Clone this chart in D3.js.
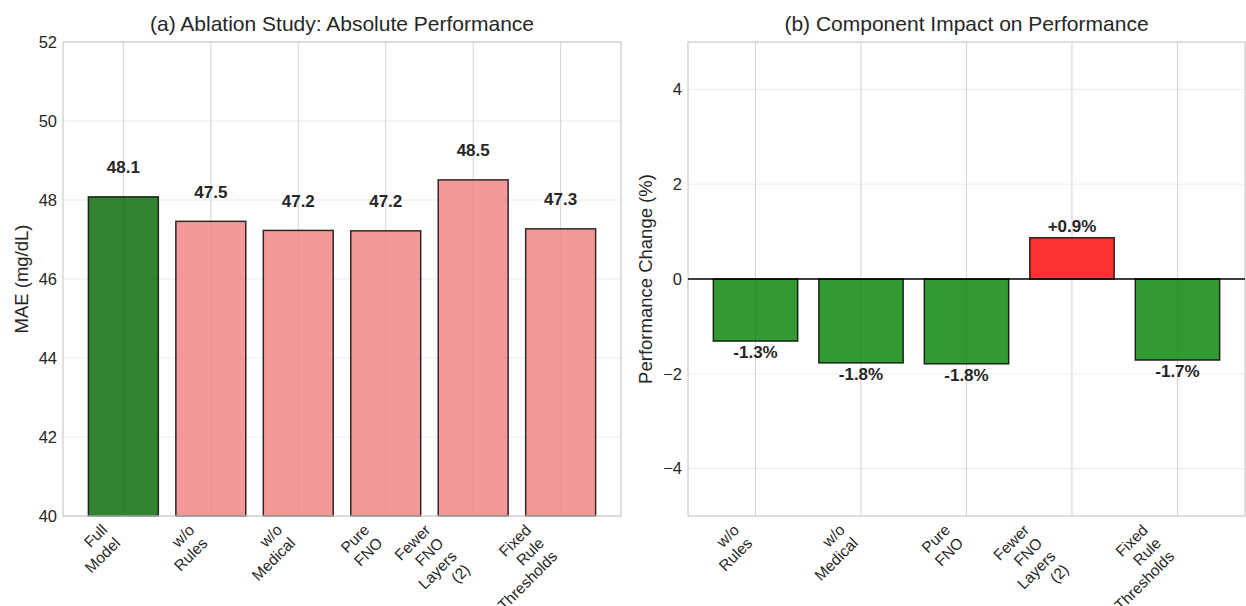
<!DOCTYPE html>
<html><head><meta charset="utf-8">
<script src="https://cdn.jsdelivr.net/npm/d3@7"></script>
<style>body{margin:0;background:#fff} text{font-family:"Liberation Sans",Arial,sans-serif;fill:#262626}</style>
</head><body><svg id="c" width="1246" height="606"></svg>
<script>
const categories = ["Full\nModel","w/o\nRules","w/o\nMedical","Pure\nFNO","Fewer\nFNO\nLayers\n(2)","Fixed\nRule\nThresholds"];
const maeValues = [48.08,47.46,47.23,47.22,48.51,47.27];
const maeLabels = ["48.1","47.5","47.2","47.2","48.5","47.3"];
const maeColors = ["#006400","#f08080","#f08080","#f08080","#f08080","#f08080"];
const changeCategories = ["w/o\nRules","w/o\nMedical","Pure\nFNO","Fewer\nFNO\nLayers\n(2)","Fixed\nRule\nThresholds"];
const changeValues = [-1.31,-1.77,-1.79,0.87,-1.71];
const changeLabels = ["-1.3%","-1.8%","-1.8%","+0.9%","-1.7%"];
const maeTicks = [40,42,44,46,48,50,52];
const changeTicks = [-4,-2,0,2,4];

const svg = d3.select("#c");
const FS_TICK = 16.5, FS_XTICK = 15.5, FS_LABEL = 18.5, FS_TITLE = 21, FS_VAL = 17;

function panel(opt){
  const {x0,x1,y0,y1,cats,vals,colors,xdom,ydom,yticks,title,ylabel,ylabelX} = opt;
  const g = svg.append("g");
  const x = d3.scaleLinear().domain(xdom).range([x0,x1]);
  const y = d3.scaleLinear().domain(ydom).range([y1,y0]);
  g.append("g").selectAll("line").data(yticks).join("line")
    .attr("x1",x0).attr("x2",x1).attr("y1",d=>y(d)).attr("y2",d=>y(d))
    .attr("stroke","#ebebeb").attr("stroke-width",1);
  g.append("g").selectAll("line").data(cats.map((c,i)=>i)).join("line")
    .attr("x1",d=>x(d)).attr("x2",d=>x(d)).attr("y1",y0).attr("y2",y1)
    .attr("stroke","#d3d3d3").attr("stroke-width",1);
  const base = Math.max(ydom[0],0);
  g.append("g").selectAll("rect").data(vals).join("rect")
    .attr("x",(d,i)=>x(i-0.4)).attr("width",(d,i)=>x(i+0.4)-x(i-0.4))
    .attr("y",d=>Math.min(y(d),y(base))).attr("height",d=>Math.abs(y(d)-y(base)))
    .attr("fill",(d,i)=>colors[i]).attr("fill-opacity",0.8)
    .attr("stroke","#000").attr("stroke-opacity",0.8).attr("stroke-width",1.5);
  const yAxis = d3.axisLeft(y).tickValues(yticks).tickSize(0).tickPadding(6);
  const ya = g.append("g").attr("transform",`translate(${x0},0)`).call(yAxis);
  ya.select(".domain").remove();
  ya.selectAll("text").attr("font-size",FS_TICK).attr("fill","#262626")
    .attr("font-family",'"Liberation Sans",Arial,sans-serif');
  cats.forEach((c,i)=>{
    const lg = g.append("g");
    const t = lg.append("text").attr("font-size",FS_XTICK).attr("text-anchor","end");
    c.split("\n").forEach((ln,k)=>{
      t.append("tspan").attr("x",0).attr("y",k*FS_XTICK*1.2).text(ln);
    });
    const b = t.node().getBBox();
    const c45 = Math.SQRT1_2;
    const corners = [[b.x,b.y],[b.x+b.width,b.y],[b.x,b.y+b.height],[b.x+b.width,b.y+b.height]]
      .map(([px,py])=>[(px+py)*c45,(py-px)*c45]);
    const maxX = d3.max(corners,d=>d[0]), minY = d3.min(corners,d=>d[1]);
    const tx = x(i) - maxX, ty = y1 + 5 - minY;
    lg.attr("transform",`translate(${tx},${ty}) rotate(-45)`);
  });
  g.append("rect").attr("x",x0).attr("y",y0).attr("width",x1-x0).attr("height",y1-y0)
    .attr("fill","none").attr("stroke","#cccccc").attr("stroke-width",1.25);
  g.append("text").attr("x",(x0+x1)/2).attr("y",y0-11).attr("text-anchor","middle")
    .attr("font-size",FS_TITLE).text(title);
  g.append("text").attr("transform",`translate(${ylabelX},${(y0+y1)/2}) rotate(-90)`)
    .attr("text-anchor","middle").attr("dy","0.35em").attr("font-size",FS_LABEL).text(ylabel);
  return {g,x,y};
}

const A = panel({x0:63,x1:621,y0:42,y1:516,cats:categories,vals:maeValues,colors:maeColors,
  xdom:[-0.69,5.69],ydom:[40,52],yticks:maeTicks,
  title:"(a) Ablation Study: Absolute Performance",ylabel:"MAE (mg/dL)",ylabelX:22});
A.g.append("g").selectAll("text").data(maeValues).join("text")
  .attr("x",(d,i)=>A.x(i)).attr("y",d=>A.y(d+0.5)-4)
  .attr("text-anchor","middle").attr("font-weight","bold").attr("font-size",FS_VAL)
  .text((d,i)=>maeLabels[i]);

const changeColors = changeValues.map(v=>v<0?"#008000":"#ff0000");
const B = panel({x0:688,x1:1245,y0:42,y1:516,cats:changeCategories,vals:changeValues,colors:changeColors,
  xdom:[-0.64,4.64],ydom:[-5,5],yticks:changeTicks,
  title:"(b) Component Impact on Performance",ylabel:"Performance Change (%)",ylabelX:646});
B.g.append("line").attr("x1",688).attr("x2",1245).attr("y1",B.y(0)).attr("y2",B.y(0))
  .attr("stroke","#000").attr("stroke-width",1.5);
B.g.append("g").selectAll("text").data(changeValues).join("text")
  .attr("x",(d,i)=>B.x(i))
  .attr("y",d=>d<0?B.y(d-0.1)+12:B.y(d+0.1)-1)
  .attr("text-anchor","middle").attr("font-weight","bold").attr("font-size",FS_VAL)
  .text((d,i)=>changeLabels[i]);
</script></body></html>
